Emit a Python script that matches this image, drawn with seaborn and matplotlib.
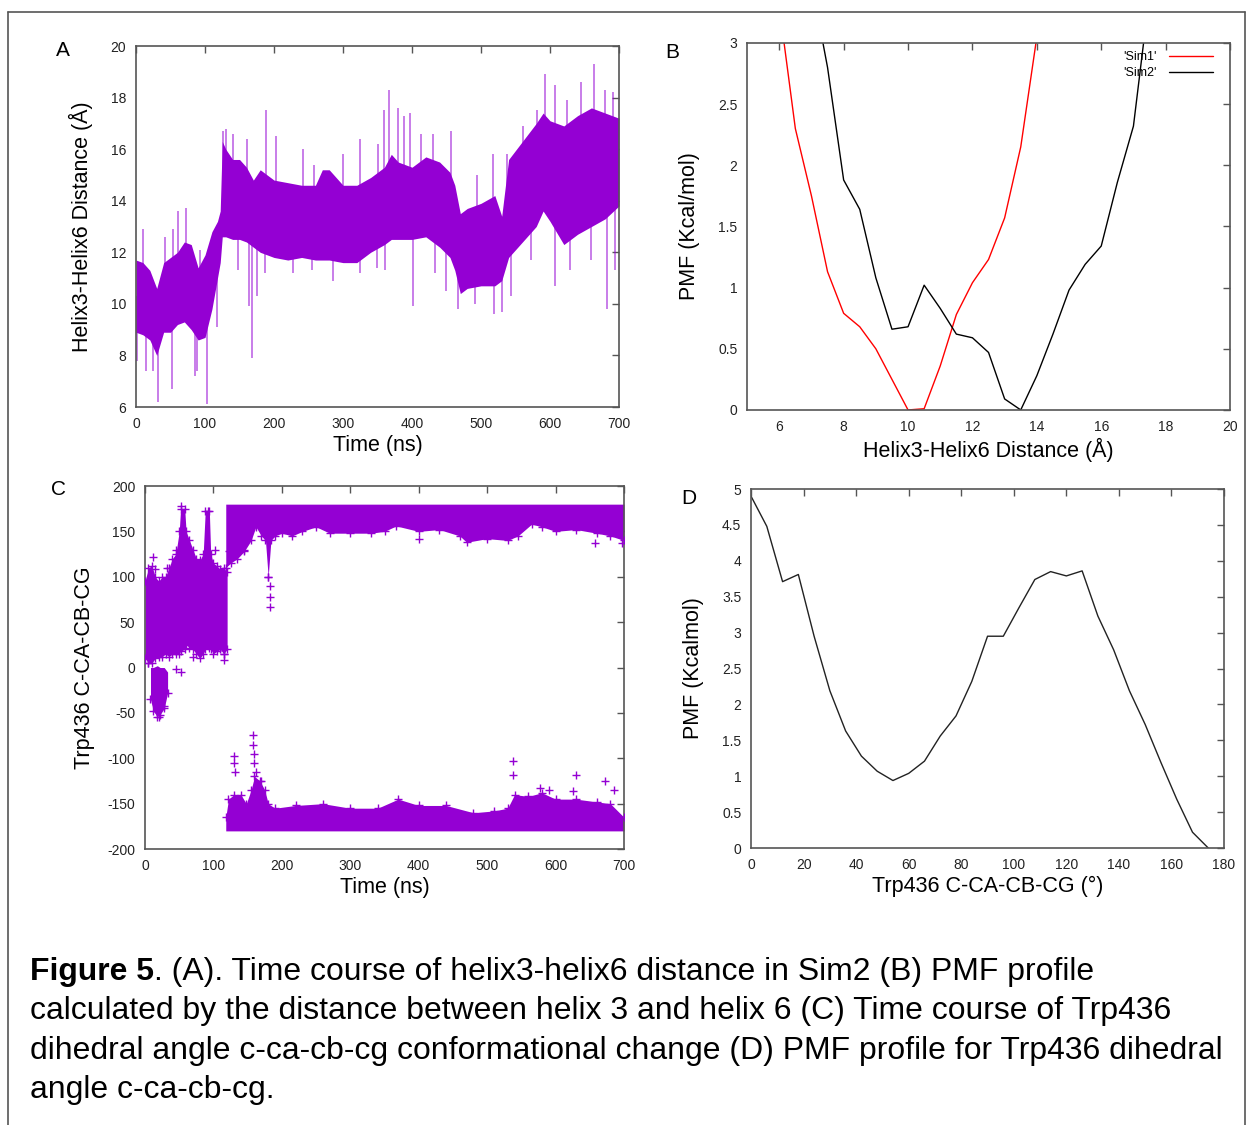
import numpy as np
import pandas as pd
import matplotlib
matplotlib.use("Agg")
import matplotlib.pyplot as plt
import matplotlib.ticker as mticker
from matplotlib.lines import Line2D
import seaborn as sns

# ---------------- data ----------------
# (A) helix3-helix6 distance, dense core of the trace every ~10 ns
a_t = [0, 10, 20, 30, 40, 50, 60, 70, 80, 90, 100, 110, 118, 122, 125, 130, 140, 150,
       160, 170, 180, 190, 200, 220, 240, 260, 270, 280, 300, 320, 340, 360, 370, 380,
       400, 420, 440, 455, 462, 470, 480, 500, 520, 530, 540, 560, 580, 590, 600, 620,
       640, 660, 680, 700]
a_high = [11.7, 11.6, 11.3, 10.6, 11.6, 11.8, 12.0, 12.4, 12.3, 11.4, 11.9, 12.8, 13.2,
          13.6, 16.3, 16.0, 15.6, 15.6, 15.3, 14.8, 15.2, 15.0, 14.8, 14.7, 14.6, 14.6,
          15.2, 15.2, 14.6, 14.6, 14.9, 15.3, 15.8, 15.5, 15.3, 15.7, 15.5, 15.1, 14.6,
          13.5, 13.7, 13.9, 14.2, 13.4, 15.6, 16.3, 17.0, 17.4, 17.1, 16.9, 17.3, 17.6,
          17.4, 17.2]
a_low = [8.9, 8.8, 8.6, 8.0, 8.9, 8.9, 9.2, 9.3, 9.0, 8.6, 8.7, 9.8, 11.0, 11.6, 12.6,
         12.6, 12.5, 12.5, 12.4, 12.2, 12.0, 11.9, 11.8, 11.7, 11.8, 11.7, 11.7, 11.7,
         11.6, 11.6, 12.0, 12.3, 12.5, 12.5, 12.5, 12.6, 12.2, 11.8, 11.3, 10.4, 10.6,
         10.7, 10.7, 10.9, 11.8, 12.4, 13.0, 13.6, 13.2, 12.3, 12.7, 13.0, 13.3, 13.8]
# single frames sticking out of the core
spike_up_t = [10, 42, 53, 61, 73, 92, 126, 131, 141, 161, 189, 203, 242, 258, 300, 324,
              351, 360, 367, 379, 388, 397, 413, 431, 457, 494, 518, 538, 561, 581, 593,
              607, 624, 645, 664, 680, 692]
spike_up_v = [12.9, 12.6, 12.9, 13.6, 13.7, 12.1, 16.7, 16.8, 16.6, 16.4, 17.5, 16.5,
              16.0, 15.4, 15.8, 16.4, 16.2, 17.5, 18.3, 17.6, 17.3, 17.4, 16.6, 16.6,
              16.7, 15.0, 15.8, 15.8, 16.9, 17.5, 18.9, 18.5, 17.9, 18.6, 19.3, 18.3,
              18.2]
spike_dn_t = [1, 15, 25, 32, 52, 86, 88, 103, 117, 148, 164, 168, 176, 187, 228, 255,
              285, 325, 349, 361, 402, 433, 449, 467, 491, 519, 531, 543, 573, 607, 629,
              660, 682, 694]
spike_dn_v = [7.8, 7.4, 7.4, 6.2, 6.7, 7.2, 7.4, 6.1, 9.1, 11.3, 9.9, 7.9, 10.3, 11.2,
              11.2, 11.3, 10.9, 11.2, 11.4, 11.3, 9.9, 11.2, 10.5, 9.8, 10.0, 9.6, 9.7,
              10.3, 11.7, 10.7, 11.3, 11.7, 9.8, 11.3]

# (B) PMF vs helix3-helix6 distance
b_x = [6.0, 6.5, 7.0, 7.5, 8.0, 8.5, 9.0, 9.5, 10.0, 10.5, 11.0, 11.5, 12.0, 12.5, 13.0,
       13.5, 14.0, 14.5, 15.0, 15.5, 16.0, 16.5, 17.0, 17.5]
b_sim1 = [3.3, 2.3, 1.75, 1.13, 0.79, 0.68, 0.5, 0.25, 0.0, 0.01, 0.36, 0.78, 1.04,
          1.23, 1.57, 2.15, 3.05, np.nan, np.nan, np.nan, np.nan, np.nan, np.nan, np.nan]
b_sim2 = [np.nan, np.nan, 3.5, 2.8, 1.88, 1.64, 1.08, 0.66, 0.68, 1.02, 0.83, 0.62,
          0.59, 0.47, 0.09, 0.0, 0.28, 0.62, 0.98, 1.19, 1.34, 1.86, 2.32, 3.4]

# (C) Trp436 dihedral time course
c_early_t = [0, 5, 10, 15, 20, 25, 30, 35, 40, 45, 50, 52, 58, 60, 65, 70, 75, 80, 85,
             88, 94, 96, 100, 105, 110, 115, 120]
c_early_low = [10, 5, 5, 10, 12, 12, 15, 12, 15, 15, 15, 18, 20, 25, 22, 20, 15, 10, 15,
               20, 22, 20, 15, 18, 20, 15, 20]
c_early_high = [95, 110, 112, 100, 95, 100, 100, 110, 120, 125, 150, 175, 175, 150, 140,
                130, 120, 118, 125, 172, 172, 125, 115, 112, 108, 110, 105]
c_neg_t = [8, 12, 18, 22, 28, 33]
c_neg_low = [-35, -48, -54, -52, -45, -28]
c_neg_high = [0, 0, 2, 0, 0, -5]
c_up_t = [118, 125, 135, 145, 155, 162, 170, 176, 180, 184, 190, 200, 215, 230, 250,
          270, 300, 330, 350, 367, 400, 430, 460, 470, 500, 530, 545, 565, 580, 600,
          630, 660, 680, 700]
c_up_low = [110, 115, 120, 128, 140, 155, 145, 140, 100, 140, 145, 148, 145, 150, 155,
            148, 148, 148, 150, 156, 150, 152, 145, 138, 142, 140, 145, 158, 155, 150,
            152, 148, 145, 140]
c_dn_t = [118, 122, 130, 140, 148, 155, 160, 168, 175, 180, 190, 220, 260, 300, 340,
          370, 400, 440, 480, 510, 530, 540, 560, 580, 600, 630, 660, 680, 700]
c_dn_high = [-165, -145, -140, -140, -150, -135, -120, -125, -135, -150, -155, -152,
             -150, -155, -155, -145, -152, -152, -160, -158, -155, -140, -142, -138,
             -145, -145, -148, -150, -165]
c_out_t = [11, 14, 32, 45, 52, 92, 75, 103, 123, 145, 182, 182, 182, 180, 5, 21, 28, 45,
           52, 115, 115, 70, 130, 130, 131, 158, 158, 159, 160, 162, 170, 538, 538, 630,
           672, 577, 590, 626, 685, 400, 657, 697]
c_out_v = [122, 108, 110, 130, 178, 172, 110, 130, 128, 130, 67, 78, 90, 100, 5, -55,
           -42, -2, -5, 8, 15, 12, -97, -105, -115, -74, -85, -95, -105, -115, -125,
           -103, -118, -118, -125, -133, -135, -136, -135, 142, 137, 137]

# (D) PMF vs Trp436 dihedral
d_x = [0, 6, 12, 18, 24, 30, 36, 42, 48, 54, 60, 66, 72, 78, 84, 90, 96, 102, 108, 114,
       120, 126, 132, 138, 144, 150, 156, 162, 168, 174]
d_pmf = [4.90, 4.48, 3.71, 3.81, 2.95, 2.19, 1.63, 1.28, 1.07, 0.94, 1.04, 1.21, 1.56,
         1.84, 2.32, 2.95, 2.95, 3.35, 3.74, 3.85, 3.79, 3.86, 3.23, 2.76, 2.19, 1.72,
         1.19, 0.68, 0.22, 0.0]

VIOLET = "#9400D3"
FRAME = "#555555"
LABEL_SIZE = 15.5

sns.set_style("white")
plt.rcParams["font.family"] = ["Liberation Sans", "DejaVu Sans"]
plt.rcParams["text.color"] = "black"
plt.rcParams["axes.labelcolor"] = "black"

fig = plt.figure(figsize=(12.48, 11.25), dpi=100)
axA = fig.add_axes([0.1090, 0.6382, 0.3870, 0.3209])
axB = fig.add_axes([0.5986, 0.6356, 0.3870, 0.3262])
axC = fig.add_axes([0.1162, 0.2453, 0.3838, 0.3227])
axD = fig.add_axes([0.6018, 0.2462, 0.3790, 0.3191])


def style_axes(ax):
    for sp in ax.spines.values():
        sp.set_color(FRAME)
        sp.set_linewidth(1.2)
    ax.tick_params(direction="in", top=True, right=True, length=5, width=1,
                   color=FRAME, labelsize=10, labelcolor="#222222", pad=7)
    ax.xaxis.set_major_formatter(mticker.FuncFormatter(lambda v, p: f"{v:g}"))
    ax.yaxis.set_major_formatter(mticker.FuncFormatter(lambda v, p: f"{v:g}"))


# ---- A ----
a_mid = (np.array(a_low) + np.array(a_high)) / 2
axA.vlines(spike_up_t, np.interp(spike_up_t, a_t, a_mid), spike_up_v,
           color=VIOLET, alpha=0.55, lw=1.3, zorder=1)
axA.vlines(spike_dn_t, spike_dn_v, np.interp(spike_dn_t, a_t, a_mid),
           color=VIOLET, alpha=0.55, lw=1.3, zorder=1)
axA.fill_between(a_t, a_low, a_high, color=VIOLET, lw=0, zorder=2)
axA.set_xlim(0, 700)
axA.set_ylim(6, 20)
axA.set_xticks(range(0, 701, 100))
axA.set_yticks(range(6, 21, 2))
axA.set_xlabel("Time (ns)", fontsize=LABEL_SIZE, labelpad=3)
axA.set_ylabel("Helix3-Helix6 Distance (Å)", fontsize=LABEL_SIZE, labelpad=13)
style_axes(axA)

# ---- B ----
dfB = pd.DataFrame({"x": b_x * 2, "pmf": b_sim1 + b_sim2,
                    "sim": ["'Sim1'"] * len(b_x) + ["'Sim2'"] * len(b_x)})
sns.lineplot(data=dfB, x="x", y="pmf", hue="sim", palette=["#FF0000", "#000000"],
             lw=1, ax=axB, legend=False)
axB.set_xlim(5, 20)
axB.set_ylim(0, 3)
axB.set_xticks(range(6, 21, 2))
axB.set_yticks(np.arange(0, 3.01, 0.5))
axB.set_xlabel("Helix3-Helix6 Distance (Å)", fontsize=LABEL_SIZE, labelpad=3)
axB.set_ylabel("PMF (Kcal/mol)", fontsize=LABEL_SIZE, labelpad=13)
handles = [Line2D([], [], color="#FF0000", lw=1), Line2D([], [], color="#000000", lw=1)]
axB.legend(handles, ["'Sim1'", "'Sim2'"], loc="upper right", frameon=False,
           markerfirst=False, fontsize=9, handlelength=3.5, labelspacing=0.35,
           borderaxespad=0.35, borderpad=0.3, handletextpad=1.0,
           bbox_to_anchor=(0.982, 1.0))
style_axes(axB)

# ---- C ----
for tt, lo, hi in [(c_early_t, c_early_low, c_early_high),
                   (c_neg_t, c_neg_low, c_neg_high),
                   (c_up_t, c_up_low, [180] * len(c_up_t)),
                   (c_dn_t, [-180] * len(c_dn_t), c_dn_high)]:
    axC.fill_between(tt, lo, hi, color=VIOLET, lw=0, zorder=2)
edge_t = c_early_t + c_early_t + c_neg_t + c_up_t + c_dn_t
edge_v = c_early_low + c_early_high + c_neg_low + c_up_low + c_dn_high
sns.scatterplot(x=edge_t + c_out_t, y=edge_v + c_out_v, marker="+", s=40,
                color=VIOLET, linewidth=1, ax=axC, zorder=3)
axC.set_xlim(0, 700)
axC.set_ylim(-200, 200)
axC.set_xticks(range(0, 701, 100))
axC.set_yticks(range(-200, 201, 50))
axC.set_xlabel("Time (ns)", fontsize=LABEL_SIZE, labelpad=3)
axC.set_ylabel("Trp436 C-CA-CB-CG", fontsize=LABEL_SIZE, labelpad=9)
style_axes(axC)

# ---- D ----
sns.lineplot(x=d_x, y=d_pmf, color="#222222", lw=1, ax=axD)
axD.set_xlim(0, 180)
axD.set_ylim(0, 5)
axD.set_xticks(range(0, 181, 20))
axD.set_yticks(np.arange(0, 5.01, 0.5))
axD.set_xlabel("Trp436 C-CA-CB-CG (°)", fontsize=LABEL_SIZE, labelpad=3)
axD.set_ylabel("PMF (Kcalmol)", fontsize=LABEL_SIZE, labelpad=13)
style_axes(axD)

# panel letters
for lbl, x, y in [("A", 63, 50), ("B", 672, 52), ("C", 59, 490), ("D", 689, 498)]:
    fig.text(x / 1248, 1 - y / 1125, lbl, fontsize=15, ha="center", va="center")

# outer frame
fig.add_artist(Line2D([8 / 1248, 8 / 1248], [0, 1 - 12 / 1125], color=FRAME, lw=1.2))
fig.add_artist(Line2D([8 / 1248, 1245 / 1248], [1 - 12 / 1125, 1 - 12 / 1125],
                      color=FRAME, lw=1.2))
fig.add_artist(Line2D([1245 / 1248, 1245 / 1248], [0, 1 - 12 / 1125], color=FRAME, lw=1.2))

# caption
cap_size = 22.95
x0 = 30 / 1248
bold = fig.text(x0, 1 - 980 / 1125, "Figure 5", fontsize=cap_size, fontweight="bold",
                va="baseline", ha="left", color="black")
renderer = fig.canvas.get_renderer()
bb = bold.get_window_extent(renderer)
fig.text(bb.x1 / fig.bbox.width, 1 - 980 / 1125,
         ". (A). Time course of helix3-helix6 distance in Sim2 (B) PMF profile",
         fontsize=cap_size, va="baseline", ha="left", color="black")
caption_lines = [
    "calculated by the distance between helix 3 and helix 6 (C) Time course of Trp436",
    "dihedral angle c-ca-cb-cg conformational change (D) PMF profile for Trp436 dihedral",
    "angle c-ca-cb-cg.",
]
for i, line in enumerate(caption_lines):
    fig.text(x0, 1 - (1019 + 39.5 * i) / 1125, line, fontsize=cap_size,
             va="baseline", ha="left", color="black")

fig.savefig("out.png", dpi=100)
